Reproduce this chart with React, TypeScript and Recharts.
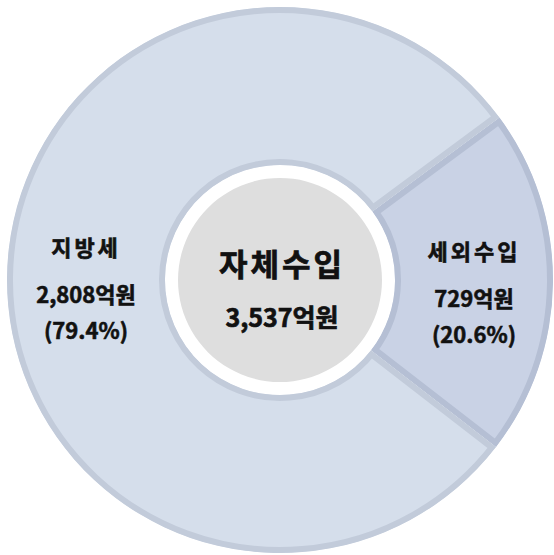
import { PieChart, Pie, Cell, Sector } from "recharts";

const CATEGORIES = ["세외수입", "지방세"];
const VALUES = [729, 2808];
const PERCENTS = ["20.6%", "79.4%"];
const TOTAL_LABEL = "자체수입";
const TOTAL_VALUE = 3537;

const FILLS = ["#c9d2e5", "#d5deeb"];
const BORDERS = ["#b5bfd4", "#c2cbda"];

const RADIAN = Math.PI / 180;
const FONT = "'Noto Sans CJK KR', 'Noto Sans', sans-serif";

const data = CATEGORIES.map((name, i) => ({
  name,
  value: VALUES[i],
  percent: PERCENTS[i],
  border: BORDERS[i],
}));

const center = [{ name: TOTAL_LABEL, value: TOTAL_VALUE }];

const fmt = (v: number) => v.toLocaleString("en-US");

// sector with the border drawn only inside its own edge
function InsetSector(props: any) {
  const { cx, cy, innerRadius, outerRadius, startAngle, endAngle, fill, payload } = props;
  const geom = { cx, cy, innerRadius, outerRadius, startAngle, endAngle };
  const id = `clip-${CATEGORIES.indexOf(payload?.name ?? props.name)}`;
  return (
    <g>
      <defs>
        <clipPath id={id}>
          <Sector {...geom} />
        </clipPath>
      </defs>
      <Sector
        {...geom}
        fill={fill}
        stroke={payload?.border ?? props.border}
        strokeWidth={12}
        clipPath={`url(#${id})`}
      />
    </g>
  );
}

function SliceLabel(props: any) {
  const { cx, cy, midAngle, innerRadius, outerRadius, payload } = props;
  const r = (innerRadius + outerRadius) / 2;
  const x = cx + r * Math.cos(-midAngle * RADIAN);
  const y = cy + r * Math.sin(-midAngle * RADIAN);
  const p = payload ?? props;
  return (
    <text
      x={x}
      y={y}
      textAnchor="middle"
      dominantBaseline="central"
      fill="#111"
      stroke="#111"
      strokeWidth={0.6}
      fontFamily={FONT}
      fontWeight={700}
      fontSize={22}
    >
      <tspan x={x} dy={-32} letterSpacing={3}>{p.name}</tspan>
      <tspan x={x} dy={47}>{fmt(p.value)}억원</tspan>
      <tspan x={x} dy={36}>({p.percent})</tspan>
    </text>
  );
}

function CenterLabel(props: any) {
  const { cx, cy } = props;
  return (
    <g fontFamily={FONT} fontWeight={700} fill="#111" stroke="#111" strokeWidth={0.7} textAnchor="middle">
      <text x={cx + 2} y={cy - 18} dominantBaseline="central" fontSize={31} letterSpacing={3}>
        {TOTAL_LABEL}
      </text>
      <text x={cx + 2} y={cy + 36} dominantBaseline="central" fontSize={25}>
        {fmt(TOTAL_VALUE)}억원
      </text>
    </g>
  );
}

export default function App() {
  return (
    <div style={{ position: "absolute", left: 0, top: 0, width: 554, height: 555, background: "#fff" }}>
      <PieChart width={554} height={555} margin={{ top: 0, right: 0, bottom: 0, left: 0 }}>
        <Pie
          data={data}
          dataKey="value"
          nameKey="name"
          cx={280}
          cy={280}
          innerRadius={115}
          outerRadius={273}
          startAngle={36.5}
          endAngle={36.5 - 360}
          stroke="none"
          shape={InsetSector}
          label={SliceLabel}
          labelLine={false}
          isAnimationActive={false}
        >
          {data.map((d, i) => (
            <Cell key={d.name} fill={FILLS[i]} />
          ))}
        </Pie>
        <Pie
          data={center}
          dataKey="value"
          cx={280}
          cy={280}
          innerRadius={101}
          outerRadius={105}
          fill="#ffffff"
          stroke="none"
          isAnimationActive={false}
        />
        <Pie
          data={center}
          dataKey="value"
          cx={280}
          cy={280}
          innerRadius={0}
          outerRadius={102}
          fill="#dedede"
          stroke="none"
          label={CenterLabel}
          labelLine={false}
          isAnimationActive={false}
        />
      </PieChart>
    </div>
  );
}
